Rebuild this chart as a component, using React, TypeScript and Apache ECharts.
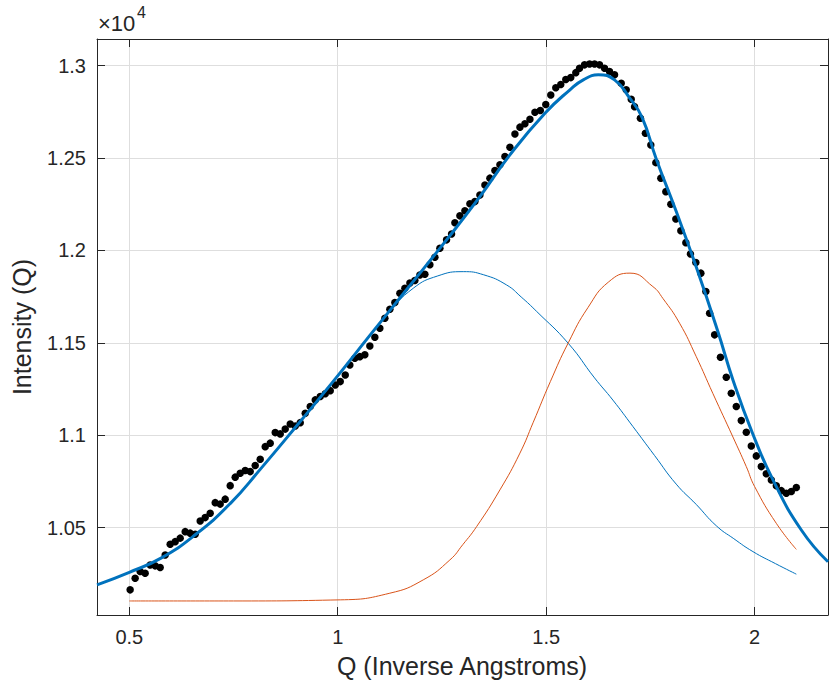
import React, { useEffect, useRef } from "react";
import * as echarts from "echarts";

// Measured data (Q in inverse Angstroms, intensity)
const dotQ = [
  0.502, 0.514, 0.526, 0.538, 0.55, 0.562, 0.574, 0.586, 0.598, 0.61, 0.622, 0.634, 0.646, 0.658,
  0.67, 0.682, 0.694, 0.706, 0.718, 0.73, 0.742, 0.754, 0.766, 0.778, 0.79, 0.802, 0.814, 0.826,
  0.838, 0.85, 0.862, 0.874, 0.886, 0.898, 0.91, 0.922, 0.934, 0.946, 0.958, 0.97, 0.982, 0.994,
  1.006, 1.018, 1.029, 1.041, 1.053, 1.065, 1.077, 1.089, 1.101, 1.113, 1.125, 1.137, 1.149, 1.161,
  1.173, 1.185, 1.197, 1.209, 1.221, 1.233, 1.245, 1.261, 1.273, 1.281, 1.293, 1.305, 1.317, 1.329,
  1.341, 1.353, 1.365, 1.377, 1.389, 1.401, 1.413, 1.425, 1.437, 1.449, 1.461, 1.473, 1.486, 1.499,
  1.511, 1.523, 1.535, 1.547, 1.559, 1.571, 1.58, 1.592, 1.604, 1.616, 1.628, 1.64, 1.652, 1.664,
  1.68, 1.692, 1.704, 1.712, 1.726, 1.738, 1.751, 1.763, 1.775, 1.787, 1.799, 1.811, 1.823, 1.835,
  1.846, 1.859, 1.871, 1.883, 1.892, 1.904, 1.918, 1.932, 1.944, 1.956, 1.968, 1.98, 1.992, 2.004,
  2.016, 2.028, 2.04, 2.052, 2.064, 2.076, 2.088, 2.1,
];
const dotI = [
  10163, 10226, 10262, 10253, 10298, 10293, 10284, 10352, 10410, 10424, 10443, 10478, 10470, 10464,
  10536, 10554, 10578, 10635, 10627, 10654, 10727, 10773, 10794, 10809, 10803, 10836, 10870, 10938,
  10957, 11014, 11007, 11033, 11061, 11050, 11068, 11119, 11155, 11191, 11209, 11224, 11241, 11272,
  11290, 11326, 11380, 11417, 11425, 11435, 11483, 11530, 11579, 11633, 11682, 11718, 11768, 11795,
  11823, 11837, 11867, 11871, 11922, 11963, 12012, 12057, 12089, 12150, 12187, 12215, 12252, 12264,
  12300, 12354, 12391, 12432, 12463, 12508, 12558, 12630, 12667, 12685, 12710, 12748, 12757, 12790,
  12841, 12880, 12898, 12925, 12935, 12962, 12986, 13004, 13009, 13009, 13004, 12986, 12968, 12950,
  12905, 12869, 12818, 12778, 12715, 12634, 12571, 12475, 12391, 12318, 12250, 12170, 12106, 12042,
  11981, 11934, 11877, 11777, 11660, 11543, 11422, 11314, 11227, 11155, 11079, 11016, 10942, 10888,
  10830, 10791, 10758, 10726, 10700, 10686, 10695, 10717,
];

// Total fit (thick blue)
const fitQ = [
  0.4225, 0.5, 0.576, 0.658, 0.742, 0.814, 0.91, 0.994, 1.077, 1.161, 1.261, 1.341, 1.413, 1.497,
  1.557, 1.589, 1.625, 1.664, 1.7, 1.73, 1.764, 1.812, 1.86, 1.912, 1.948, 1.994, 2.044, 2.112, 2.176,
];
const fitI = [
  10190, 10258, 10335, 10461, 10630, 10815, 11074, 11305, 11540, 11776, 12057, 12291, 12517, 12742,
  12869, 12923, 12950, 12923, 12825, 12720, 12495, 12210, 11910, 11560, 11299, 11016, 10758, 10487, 10315,
];

// Component 1 (thin blue)
const peak1Q = [
  0.5, 0.576, 0.658, 0.742, 0.814, 0.91, 0.994, 1.05, 1.117, 1.181, 1.24, 1.301, 1.35, 1.405, 1.44,
  1.477, 1.553, 1.616, 1.66, 1.708, 1.76, 1.812, 1.86, 1.908, 1.95, 1.996, 2.05, 2.1,
];
const peak1I = [
  10258, 10335, 10461, 10630, 10815, 11070, 11300, 11460, 11651, 11795, 11862, 11885, 11868, 11813,
  11748, 11670, 11497, 11310, 11190, 11047, 10890, 10735, 10625, 10510, 10440, 10370, 10305, 10248,
];

// Component 2 (thin orange)
const peak2Q = [
  0.5, 0.75, 1.006, 1.125, 1.205, 1.269, 1.3, 1.333, 1.389, 1.437, 1.469, 1.51, 1.553, 1.6, 1.65,
  1.701, 1.756, 1.78, 1.82, 1.86, 1.9, 1.948, 1.98, 2.0, 2.052, 2.1,
];
const peak2I = [
  10103, 10103, 10109, 10145, 10217, 10325, 10408, 10505, 10704, 10903, 11070, 11290, 11500, 11690,
  11830, 11877, 11804, 11740, 11606, 11425, 11225, 10990, 10830, 10722, 10523, 10382,
];

const xTicks = [0.5, 1, 1.5, 2];
const xTickLabels = ["0.5", "1", "1.5", "2"];
const yTicks = [10500, 11000, 11500, 12000, 12500, 13000];
const yTickLabels = ["1.05", "1.1", "1.15", "1.2", "1.25", "1.3"];

const X_MIN = 0.4225;
const X_MAX = 2.176;
const Y_MIN = 10027;
const Y_MAX = 13144;

const FONT = "'Liberation Sans', Arial, Helvetica, sans-serif";
const AXIS_COLOR = "#262626";
const GRID_COLOR = "#dedede";

const pairs = (xs: number[], ys: number[]) => xs.map((x, i) => [x, ys[i]]);

export default function App() {
  const ref = useRef<HTMLDivElement | null>(null);

  useEffect(() => {
    if (!ref.current) return;
    const chart = echarts.init(ref.current, undefined, { renderer: "svg" });

    const xLabelFmt = (v: number) => {
      const i = xTicks.findIndex((t) => Math.abs(t - v) < 1e-9);
      return i >= 0 ? xTickLabels[i] : "";
    };
    const yLabelFmt = (v: number) => {
      const i = yTicks.findIndex((t) => Math.abs(t - v) < 1e-6);
      return i >= 0 ? yTickLabels[i] : "";
    };

    const baseX = {
      type: "value",
      min: X_MIN,
      max: X_MAX,
      axisLine: { show: true, onZero: false, lineStyle: { color: AXIS_COLOR, width: 1 } },
      axisTick: { show: true, inside: true, length: 8, customValues: xTicks, lineStyle: { color: AXIS_COLOR, width: 1 } },
    };
    const baseY = {
      type: "value",
      min: Y_MIN,
      max: Y_MAX,
      axisLine: { show: true, onZero: false, lineStyle: { color: AXIS_COLOR, width: 1 } },
      axisTick: { show: true, inside: true, length: 8, customValues: yTicks, lineStyle: { color: AXIS_COLOR, width: 1 } },
    };

    const curve = (q: number[], v: number[], color: string, width: number, z: number, name: string) => ({
      type: "line",
      name,
      data: pairs(q, v),
      showSymbol: false,
      smooth: 0.5,
      lineStyle: { color, width },
      z,
    });

    chart.setOption({
      animation: false,
      backgroundColor: "#ffffff",
      grid: { left: 97, right: 7, top: 39, bottom: 77, containLabel: false },
      xAxis: [
        {
          ...baseX,
          position: "bottom",
          axisLabel: {
            show: true,
            customValues: xTicks,
            formatter: xLabelFmt,
            color: AXIS_COLOR,
            fontSize: 20,
            fontFamily: FONT,
            margin: 12,
          },
          splitLine: { show: true, lineStyle: { color: GRID_COLOR, width: 1 } },
        },
        {
          ...baseX,
          position: "top",
          axisLabel: { show: false },
          splitLine: { show: false },
        },
      ],
      yAxis: [
        {
          ...baseY,
          position: "left",
          axisLabel: {
            show: true,
            customValues: yTicks,
            formatter: yLabelFmt,
            color: AXIS_COLOR,
            fontSize: 20,
            fontFamily: FONT,
            margin: 11,
          },
          splitLine: { show: true, lineStyle: { color: GRID_COLOR, width: 1 } },
        },
        {
          ...baseY,
          position: "right",
          axisLabel: { show: false },
          splitLine: { show: false },
        },
      ],
      series: [
        {
          type: "scatter",
          name: "data",
          data: pairs(dotQ, dotI),
          symbol: "circle",
          symbolSize: 7.5,
          itemStyle: { color: "#000000", opacity: 1 },
          z: 2,
        },
        curve(fitQ, fitI, "#0072BD", 3, 3, "fit"),
        curve(peak1Q, peak1I, "#0072BD", 1, 4, "peak 1"),
        curve(peak2Q, peak2I, "#D95319", 1, 4, "peak 2"),
      ],
      graphic: [
        {
          type: "text",
          left: 98,
          top: 12,
          style: { text: "×10", fill: AXIS_COLOR, font: `22px ${FONT}` },
        },
        {
          type: "text",
          left: 137,
          top: 4,
          style: { text: "4", fill: AXIS_COLOR, font: `16px ${FONT}` },
        },
        {
          type: "text",
          x: 462,
          y: 666,
          style: {
            text: "Q (Inverse Angstroms)",
            fill: AXIS_COLOR,
            font: `25px ${FONT}`,
            textAlign: "center",
            textVerticalAlign: "middle",
          },
        },
        {
          type: "text",
          x: 22,
          y: 327,
          rotation: Math.PI / 2,
          style: {
            text: "Intensity (Q)",
            fill: AXIS_COLOR,
            font: `25px ${FONT}`,
            textAlign: "center",
            textVerticalAlign: "middle",
          },
        },
      ],
    });

    return () => chart.dispose();
  }, []);

  return (
    <div
      ref={ref}
      style={{ position: "fixed", left: 0, top: 0, width: 835, height: 692, background: "#fff" }}
    />
  );
}
